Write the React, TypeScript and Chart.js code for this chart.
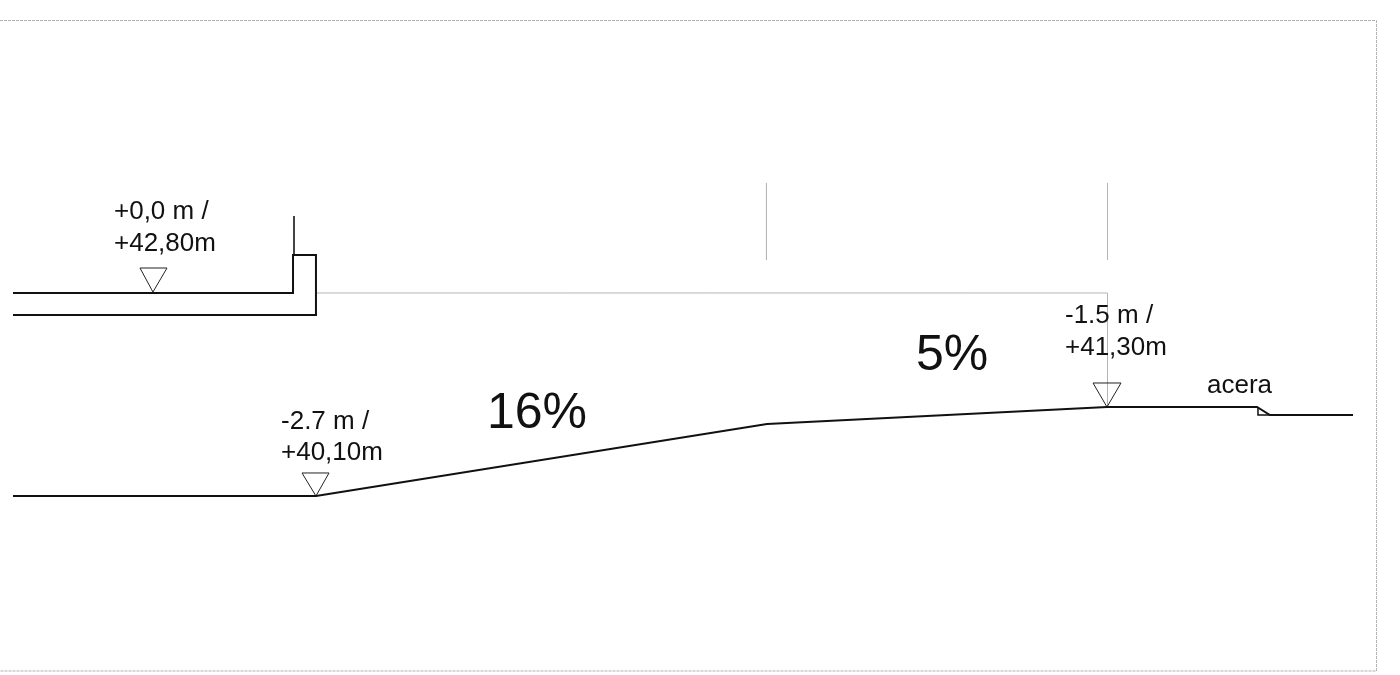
import React, { useEffect, useRef } from "react";
import { Chart, registerables } from "chart.js";

Chart.register(...registerables);

// All distances in metres; elevations in metres above datum.
const viewX = [0, 18.543];
const viewY = [37.74, 46.681];

const upperSlabX = [0.172, 3.881, 3.881, 4.185, 4.185, 0.172];
const upperSlabY = [42.8, 42.8, 43.303, 43.303, 42.509, 42.509];
const postX = [3.894, 3.894];
const postY = [43.82, 43.303];
const groundX = [0.172, 4.185, 10.159, 14.662, 16.649, 16.821, 17.921];
const groundY = [40.111, 40.111, 41.065, 41.29, 41.29, 41.184, 41.184];
const curbX = [16.662, 16.662, 16.821];
const curbY = [41.29, 41.184, 41.184];
const datumX = [4.185, 14.669, 14.669];
const datumY = [42.8, 42.8, 41.29];
const tickAX = [10.152, 10.152];
const tickBX = [14.669, 14.669];
const tickY = [44.257, 43.237];
const frameX = [0, 18.232, 18.232, 0];
const frameY = [46.409, 46.409, 37.793, 37.793];
const markAX = [1.854, 2.212, 2.026, 1.854];
const markAY = [43.131, 43.131, 42.813, 43.131];
const markBX = [4.0, 4.358, 4.185, 4.0];
const markBY = [40.416, 40.416, 40.111, 40.416];
const markCX = [14.477, 14.848, 14.662, 14.477];
const markCY = [41.608, 41.608, 41.29, 41.608];

const labelTexts = ["+0,0 m /", "+42,80m", "-2.7 m /", "+40,10m", "-1.5 m /", "+41,30m", "acera", "16%", "5%"];
const labelX = [1.51, 1.51, 3.722, 3.722, 14.106, 14.106, 15.987, 6.45, 12.132];
const labelY = [43.78, 43.356, 40.999, 40.588, 42.403, 41.979, 41.475, 41.012, 41.78];
const labelSizes = [26, 26, 26, 26, 26, 26, 26, 50, 50];

const toPts = (xs: number[], ys: number[]) => xs.map((x, i) => ({ x, y: ys[i] }));

const line = (xs: number[], ys: number[], color: string, width: number, dash: number[] = []) => ({
  data: toPts(xs, ys),
  showLine: true,
  fill: false,
  tension: 0,
  pointRadius: 0,
  pointHoverRadius: 0,
  borderColor: color,
  borderWidth: width,
  borderDash: dash,
  borderJoinStyle: "miter" as const,
});

const labelPlugin = {
  id: "sectionLabels",
  afterDatasetsDraw(chart: any) {
    const { ctx, scales } = chart;
    ctx.save();
    ctx.fillStyle = "#111111";
    ctx.textAlign = "left";
    ctx.textBaseline = "alphabetic";
    labelTexts.forEach((t, i) => {
      ctx.font = `${labelSizes[i]}px "Liberation Sans", Arial, sans-serif`;
      ctx.fillText(t, scales.x.getPixelForValue(labelX[i]), scales.y.getPixelForValue(labelY[i]));
    });
    ctx.restore();
  },
};

export default function App() {
  const ref = useRef<HTMLCanvasElement>(null);
  useEffect(() => {
    const chart = new Chart(ref.current as HTMLCanvasElement, {
      type: "scatter",
      data: {
        datasets: [
          line(upperSlabX, upperSlabY, "#111111", 2),
          line(postX, postY, "#444444", 2),
          line(groundX, groundY, "#111111", 2),
          line(curbX, curbY, "#111111", 1.5),
          line(markAX, markAY, "#222222", 1),
          line(markBX, markBY, "#222222", 1),
          line(markCX, markCY, "#222222", 1),
          line(datumX, datumY, "#b4b4b4", 1),
          line(tickAX, tickY, "#b4b4b4", 1),
          line(tickBX, tickY, "#b4b4b4", 1),
          line(frameX, frameY, "#b0b0b0", 1, [3, 1]),
        ] as any,
      },
      options: {
        animation: false,
        responsive: false,
        layout: { padding: 0 },
        plugins: { legend: { display: false }, tooltip: { enabled: false }, title: { display: false } },
        scales: {
          x: { type: "linear", display: false, min: viewX[0], max: viewX[1] },
          y: { type: "linear", display: false, min: viewY[0], max: viewY[1] },
        },
      },
      plugins: [labelPlugin],
    });
    return () => chart.destroy();
  }, []);
  return (
    <div style={{ position: "fixed", left: 0, top: 0, width: 1400, height: 675, background: "#ffffff" }}>
      <canvas ref={ref} width={1400} height={675} style={{ display: "block" }} />
    </div>
  );
}
